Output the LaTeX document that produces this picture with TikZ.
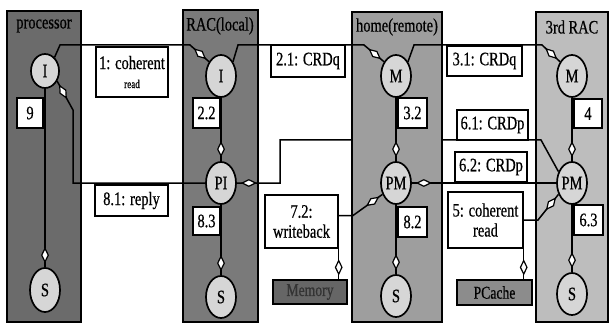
\documentclass[tikz,border=0pt]{standalone}
\usepackage{fontspec}
\setmainfont{Liberation Serif}[FakeStretch=0.76,FakeBold=0.6]
\usetikzlibrary{arrows.meta,decorations.markings,shadows,calc,shapes.geometric}
\pgfdeclarelayer{bg}\pgfdeclarelayer{mid}\pgfsetlayers{bg,mid,main}
\definecolor{pband}{gray}{0.42}
\definecolor{rband}{gray}{0.48}
\definecolor{hband}{gray}{0.62}
\definecolor{tband}{gray}{0.74}
\definecolor{ellfill}{gray}{0.84}
\definecolor{memfill}{gray}{0.40}
\definecolor{pcfill}{gray}{0.55}
\begin{document}
\begin{tikzpicture}[x=1pt,y=-1pt,
  lbl/.style={font=\fontsize{19}{20}\selectfont, inner sep=0pt},
  band/.style={draw=black, line width=1.2pt},
  ell/.style={shape=ellipse, draw, line width=1.7pt, fill=ellfill, minimum width=30pt, minimum height=42pt, inner sep=0pt, font=\fontsize{19}{20}\selectfont},
  tag/.style={draw, line width=1.4pt, fill=white, inner sep=0pt, align=center, font=\fontsize{19}{20}\selectfont,
    drop shadow={shadow xshift=1.2pt, shadow yshift=-1.2pt, opacity=1, fill=black}},
  store/.style={draw, line width=1.3pt, inner sep=0pt, font=\fontsize{18}{19}\selectfont},
  conn/.style={line width=1.5pt},
  dmark/.style={shape=diamond, draw, fill=white, line width=1.2pt, minimum width=14pt, minimum height=7pt, inner sep=0pt, transform shape},
  dia/.style={postaction={decorate, decoration={markings, mark=at position -12pt with {\node[dmark] {};}}}}
]
\useasboundingbox (0,0) rectangle (609,323);
% bands
\begin{pgfonlayer}{bg}
  \fill[white] (0,0) rectangle (609,323);
  \draw[band, fill=pband] (7,11) rectangle (81,322);
  \draw[band, fill=rband] (183,10) rectangle (258,322);
  \draw[band, fill=tband] (536,12) rectangle (608,322);
\end{pgfonlayer}
\begin{pgfonlayer}{mid}
  \draw[band, fill=hband] (352,12) rectangle (442,322);
\end{pgfonlayer}
% band labels
\node[lbl] (lp) at (44,26) {processor};
\node[lbl] (lr) at (220,26) {RAC(local)};
\node[lbl] (lh) at (397,27) {home(remote)};
\node[lbl] (lt) at (572,27) {3rd RAC};
% ellipses
\node[ell, minimum width=28pt, minimum height=34pt] (pI) at (45,71) {I};
\node[ell, minimum height=44pt] (pS) at (45,290) {S};
\node[ell] (rI) at (221,76) {I};
\node[ell] (rPI) at (221,183) {PI};
\node[ell] (rS) at (221,297) {S};
\node[ell] (hM) at (396,76) {M};
\node[ell] (hPM) at (396,183) {PM};
\node[ell] (hS) at (396,296) {S};
\node[ell] (tM) at (572,76) {M};
\node[ell] (tPM) at (572,183) {PM};
\node[ell] (tS) at (572,294) {S};
% label boxes
\node[tag, minimum width=72pt, minimum height=50pt] (b1) at (132,72) {1: coherent\\[-1pt]{\fontsize{12}{13}\selectfont read}};
\node[tag, minimum width=26pt, minimum height=30pt] (b9) at (30,113) {9};
\node[tag, minimum width=73pt, minimum height=31pt] (b81) at (131.5,200.5) {8.1: reply};
\node[tag, minimum width=27pt, minimum height=30pt] (b22) at (206.5,113) {2.2};
\node[tag, minimum width=27pt, minimum height=28pt] (b83) at (206.5,221) {8.3};
\node[tag, minimum width=74pt, minimum height=32pt] (b21) at (308,61) {2.1: CRDq};
\node[tag, minimum width=29pt, minimum height=30pt] (b32) at (412.5,113) {3.2};
\node[tag, minimum width=29pt, minimum height=30pt] (b82) at (412.5,222) {8.2};
\node[tag, minimum width=73pt, minimum height=53pt] (b72) at (301.5,221.5) {7.2:\\writeback};
\node[tag, minimum width=75pt, minimum height=30pt] (b31) at (484.5,61) {3.1: CRDq};
\node[tag, minimum width=28pt, minimum height=29pt] (b4) at (588,113.5) {4};
\node[tag, minimum width=71pt, minimum height=30pt] (b61) at (492.5,125) {6.1: CRDp};
\node[tag, minimum width=72pt, minimum height=30pt] (b62) at (491,167) {6.2: CRDp};
\node[tag, minimum width=75pt, minimum height=56pt] (b5) at (485.5,220) {5: coherent\\read};
\node[tag, minimum width=29pt, minimum height=30pt] (b63) at (588.5,220) {6.3};
\node[store, fill=memfill, text=black!80, minimum width=74pt, minimum height=24pt] (mem) at (310,292) {Memory};
\node[store, fill=pcfill, minimum width=75pt, minimum height=25pt] (pc) at (494.5,292.5) {PCache};
% connector passing behind the home band
\begin{pgfonlayer}{bg}
  \draw[conn,dia] (tPM.140) -- (541,140) -- (280,140) -- (280,183) -- (rPI.east);
\end{pgfonlayer}
% top request chain
\draw[conn,dia] (pI.55) -- (60,45) -- (190,45) -- (rI.130);
\draw[conn,dia] (rI.50) -- (238,45) -- (364,45) -- (hM.130);
\draw[conn,dia] (hM.50) -- (414,45) -- (542,45) -- (tM.130);
% vertical links
\draw[conn,dia] (pI) -- (pS);
\draw[conn,dia] (rI) -- (rPI);
\draw[conn,dia] (rPI) -- (rS);
\draw[conn,dia] (hM) -- (hPM);
\draw[conn,dia] (hPM) -- (hS);
\draw[conn,dia] (tM) -- (tPM);
\draw[conn,dia] (tPM) -- (tS);
% reply
\draw[conn,dia] (rPI.west) -- (73,183) -- (73,110) -- (pI.-40);
% 6.2
\draw[conn,dia] (tPM.west) -- (hPM.east);
% 5: coherent read
\draw[conn,dia] (b5.east) -- (538,220) -- (tPM.220);
\draw[conn,dia] (b5.south east) -- (b5.south east |- pc.north);
% 7.2 writeback
\draw[conn,dia] ($(b72.east)+(0,-6)$) -- (353,215.5) -- (hPM.220);
\draw[conn,dia] (b72.south east) -- (b72.south east |- mem.north);
\end{tikzpicture}
\end{document}
